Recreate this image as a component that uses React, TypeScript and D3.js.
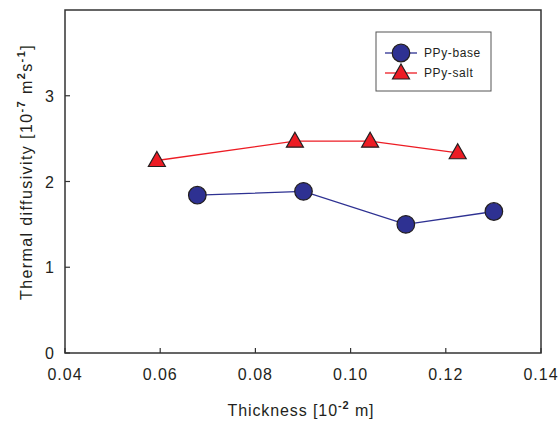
import React from 'react';
import * as d3 from 'd3';

const baseX = [0.0678, 0.0901, 0.1116, 0.1301];
const baseY = [1.84, 1.885, 1.50, 1.65];
const saltX = [0.0593, 0.0883, 0.1041, 0.1225];
const saltY = [2.245, 2.47, 2.47, 2.335];
const xTicks = ['0.04', '0.06', '0.08', '0.10', '0.12', '0.14'];
const yTicks = [0, 1, 2, 3];

const App = () => {
  const width = 558;
  const height = 424;
  const margin = { top: 10, right: 17, bottom: 71, left: 65 };

  const x = d3.scaleLinear().domain([0.04, 0.14]).range([margin.left, width - margin.right]);
  const y = d3.scaleLinear().domain([0, 4]).range([height - margin.bottom, margin.top]);

  const line = d3.line<[number, number]>().x(d => x(d[0])).y(d => y(d[1]));
  const base = baseX.map((v, i) => [v, baseY[i]] as [number, number]);
  const salt = saltX.map((v, i) => [v, saltY[i]] as [number, number]);

  const blue = '#2e3192';
  const red = '#ed1c24';
  const edge = '#231f20';
  const ink = '#231f20';
  const font = 'Liberation Sans, Arial, sans-serif';

  const tri = (cx: number, cy: number) => {
    const w = 8.5, h = 15;
    return `M${cx},${cy - h * 0.6}L${cx + w},${cy + h * 0.4}L${cx - w},${cy + h * 0.4}Z`;
  };

  const x0 = margin.left, x1 = width - margin.right;
  const y0 = height - margin.bottom, y1 = margin.top;
  const sup = { fontSize: 11, fontWeight: 'bold' as const };

  return (
    <svg width={width} height={height} style={{ position: 'absolute', left: 0, top: 0, background: '#fff' }}>
      <rect x={x0} y={y1} width={x1 - x0} height={y0 - y1} fill="none" stroke="#333" strokeWidth={1.5} />
      {xTicks.map(t => (
        <g key={t}>
          <line x1={x(+t)} x2={x(+t)} y1={y0} y2={y0 - 5} stroke="#333" strokeWidth={1.2} />
          <text x={x(+t)} y={380} textAnchor="middle" fontFamily={font} fontSize={16} letterSpacing={1} fill={ink}>{t}</text>
        </g>
      ))}
      {yTicks.map(t => (
        <g key={t}>
          <line x1={x0} x2={x0 + 5} y1={y(t)} y2={y(t)} stroke="#333" strokeWidth={1.2} />
          <text x={54} y={y(t) + 6} textAnchor="end" fontFamily={font} fontSize={16} fill={ink}>{t}</text>
        </g>
      ))}
      <text x={301} y={416} textAnchor="middle" fontFamily={font} fontSize={16} letterSpacing={0.9} fill={ink}>
        Thickness [10<tspan dy={-7} {...sup}>-2</tspan><tspan dy={7}> m]</tspan>
      </text>
      <text transform={`translate(32,172) rotate(-90)`} textAnchor="middle" fontFamily={font} fontSize={16} letterSpacing={1.4} fill={ink}>
        Thermal diffusivity [10<tspan dy={-7} {...sup}>-7</tspan><tspan dy={7}> m</tspan>
        <tspan dy={-7} {...sup}>2</tspan><tspan dy={7}>s</tspan>
        <tspan dy={-7} {...sup}>-1</tspan><tspan dy={7}>]</tspan>
      </text>

      <path d={line(salt) ?? ''} fill="none" stroke={red} strokeWidth={1.3} />
      <path d={line(base) ?? ''} fill="none" stroke={blue} strokeWidth={1.3} />
      {salt.map((d, i) => (
        <path key={'s' + i} d={tri(x(d[0]), y(d[1]))} fill={red} stroke={edge} strokeWidth={1.2} />
      ))}
      {base.map((d, i) => (
        <circle key={'b' + i} cx={x(d[0])} cy={y(d[1])} r={8.8} fill={blue} stroke={edge} strokeWidth={1.2} />
      ))}

      <rect x={376} y={32} width={115} height={59} fill="#fff" stroke="#555" strokeWidth={1} />
      <line x1={385} x2={417} y1={53} y2={53} stroke={blue} strokeWidth={1.3} />
      <circle cx={401} cy={53} r={8.8} fill={blue} stroke={edge} strokeWidth={1.2} />
      <text x={424} y={57} fontFamily={font} fontSize={12} letterSpacing={0.6} fill={ink}>PPy-base</text>
      <line x1={385} x2={417} y1={73} y2={73} stroke={red} strokeWidth={1.3} />
      <path d={tri(401, 73)} fill={red} stroke={edge} strokeWidth={1.2} />
      <text x={424} y={77} fontFamily={font} fontSize={12} letterSpacing={0.6} fill={ink}>PPy-salt</text>
    </svg>
  );
};

export default App;
